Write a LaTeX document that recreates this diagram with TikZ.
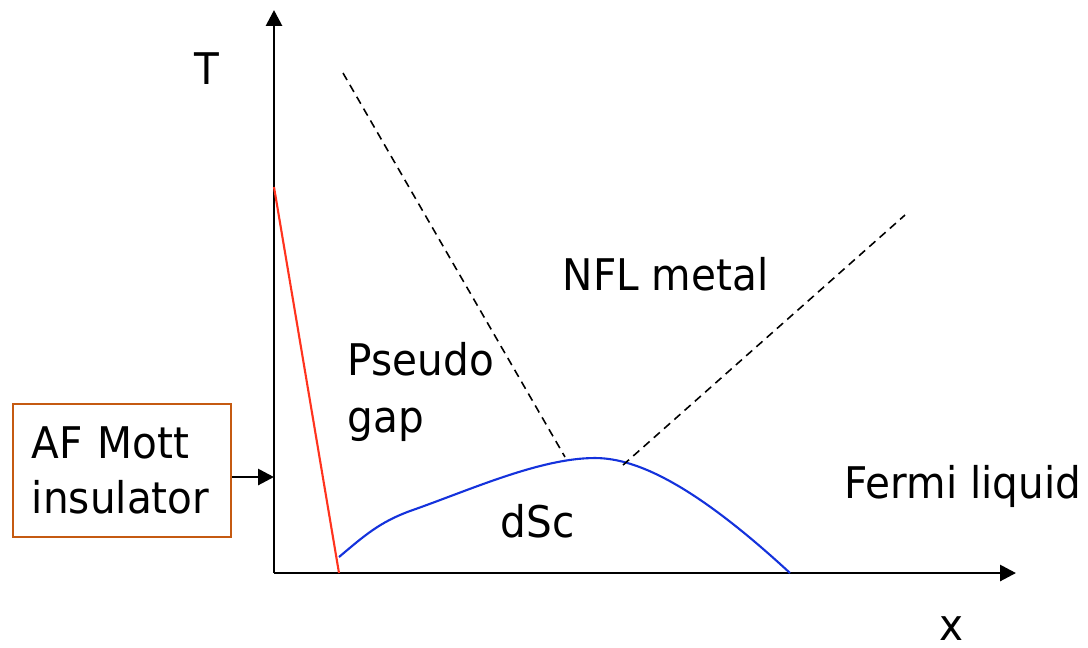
\documentclass[tikz,border=0pt]{standalone}
\usepackage{fontspec}
\setmainfont{DejaVu Sans}[FakeStretch=0.93]
\usetikzlibrary{arrows.meta}

\definecolor{boxbrown}{RGB}{197,90,17}
\definecolor{afred}{RGB}{255,51,30}
\definecolor{scblue}{RGB}{20,50,220}

\tikzset{
  label text/.style={anchor=base west, inner sep=0pt, font=\fontsize{12.4}{16}\selectfont},
  axis/.style={line width=0.8pt, -{Triangle[length=4.5pt,width=4.5pt]}},
  crossover/.style={line width=0.45pt, dash pattern=on 2.3pt off 1.6pt}
}

\begin{document}
\begin{tikzpicture}[x=0.01cm, y=-0.01cm]
  \useasboundingbox (0,0) rectangle (1088,647);

  % Axes
  \coordinate (O) at (274,573);
  \coordinate (Ttop) at (274,10);
  \coordinate (Xend) at (1016,573);
  \draw[axis] (O) -- (Ttop);
  \draw[axis] (O) -- (Xend);
  \node[anchor=center, inner sep=0pt, font=\fontsize{12.4}{16}\selectfont] (T) at (207,69) {T};
  \node[anchor=center, inner sep=0pt, font=\fontsize{12.4}{16}\selectfont] (x) at (951,629) {x};

  % Antiferromagnetic boundary
  \coordinate (af1) at (274,187);
  \coordinate (af2) at (339,573);
  \draw[afred, line width=0.6pt] (af1) -- (af2);

  % Superconducting dome
  \draw[scblue, line width=0.6pt] (339,557) .. controls (365,535) and (380,522) .. (410,511)
    .. controls (470,490) and (540,458) .. (595,458)
    .. controls (640,458) and (700,490) .. (790,573);

  % Crossover lines
  \coordinate (pg1) at (343,73);
  \coordinate (pg2) at (565,457);
  \coordinate (fl1) at (623,465);
  \coordinate (fl2) at (905,215);
  \draw[crossover] (pg1) -- (pg2);
  \draw[crossover] (fl1) -- (fl2);

  % Region labels
  \node[label text] (nfl) at (562,290) {NFL metal};
  \node[label text] (pseudo) at (347,375) {Pseudo};
  \node[label text] (gap) at (347,432) {gap};
  \node[label text] (fermi) at (844,498) {Fermi liquid};
  \node[label text] (dsc) at (500,537) {dSc};

  % Insulator box
  \node[draw=boxbrown, line width=0.6pt, text width=1.8cm, inner xsep=0.19cm, inner ysep=0pt,
        minimum height=1.33cm, align=left, font=\fontsize{12.4}{15.8}\selectfont] (mott) at (122,470.5)
        {AF Mott\\insulator};
  \draw[line width=0.8pt, -{Triangle[length=4.5pt,width=4.5pt]}] (mott.east |- 0,477) -- (O |- 0,477);
\end{tikzpicture}
\end{document}
